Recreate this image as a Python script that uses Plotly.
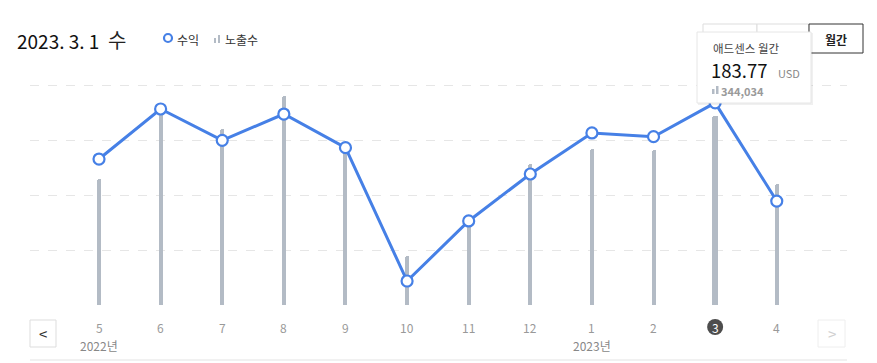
import plotly.graph_objects as go

# ---- data ----
months = ["5", "6", "7", "8", "9", "10", "11", "12", "1", "2", "3", "4"]
revenue_usd = [132.7, 178.2, 149.7, 173.6, 143.0, 21.8, 76.4, 119.1, 156.4, 153.0, 183.77, 94.5]
impressions = [229100, 349100, 319500, 380000, 281800, 89100, 147300, 255800, 283600, 281300, 344034, 220000]
year_labels = {"5": "2022년", "1": "2023년"}
selected = "3"

W, H = 877, 363
L, R, T, B = 30, 30, 75, 58
PW, PH = W - L - R, H - T - B
EXT = PH / 220.0  # plot is 10px taller than the top gridline
FONT = "Noto Sans CJK KR, Noto Sans, sans-serif"
BLUE = "#4680e6"
BARC = "#b3bbc5"

def px(X):
    return (X - L) / PW

def py(Y):
    return (H - B - Y) / PH

xs = list(range(len(months)))
sel_i = months.index(selected)
widths = [0.09 if m == selected else 0.065 for m in months]

fig = go.Figure()
fig.add_trace(go.Bar(x=xs, y=impressions, width=widths, marker=dict(color=BARC, cornerradius=2, line=dict(width=0)),
                     yaxis="y", hoverinfo="skip"))
fig.add_trace(go.Scatter(x=xs, y=revenue_usd, mode="lines+markers", yaxis="y2",
                         line=dict(color=BLUE, width=3),
                         marker=dict(size=11, color="white", line=dict(color=BLUE, width=2.2)),
                         cliponaxis=False, hoverinfo="skip"))

shapes = []
ann = []

# month labels
for i, m in enumerate(months):
    if m == selected:
        shapes.append(dict(type="circle", xref="x", yref="paper", xsizemode="pixel", ysizemode="pixel",
                           xanchor=i, yanchor=0, x0=-8, x1=8, y0=-30, y1=-14,
                           fillcolor="#4d4d4d", line=dict(width=0)))
        ann.append(dict(x=i, y=0, xref="x", yref="paper", text=m, showarrow=False, yanchor="middle",
                        yshift=-22, font=dict(size=12, color="white", family=FONT)))
    else:
        ann.append(dict(x=i, y=0, xref="x", yref="paper", text=m, showarrow=False, yanchor="middle",
                        yshift=-22, font=dict(size=12, color="#999999", family=FONT)))
    if m in year_labels:
        ann.append(dict(x=i, y=0, xref="x", yref="paper", text=year_labels[m], showarrow=False,
                        yanchor="middle", yshift=-40, font=dict(size=12, color="#888888", family=FONT)))

# title
ann.append(dict(x=px(15), y=py(40), xref="paper", yref="paper", xanchor="left", yanchor="middle",
                text="2023. 3. 1", showarrow=False, font=dict(size=19, color="#111111", family=FONT)))
ann.append(dict(x=px(106), y=py(39), xref="paper", yref="paper", xanchor="left", yanchor="middle",
                text="수", showarrow=False, font=dict(size=20, color="#222222", family=FONT)))

# legend
shapes.append(dict(type="circle", xref="paper", yref="paper", x0=px(164), x1=px(172), y0=py(42), y1=py(34),
                   line=dict(color=BLUE, width=2.2), fillcolor="white"))
ann.append(dict(x=px(175), y=py(39), xref="paper", yref="paper", xanchor="left", yanchor="middle",
                text="수익", showarrow=False, font=dict(size=12, color="#333333", family=FONT)))
shapes.append(dict(type="rect", xref="paper", yref="paper", x0=px(214), x1=px(216), y0=py(43), y1=py(38),
                   line=dict(width=0), fillcolor=BARC))
shapes.append(dict(type="rect", xref="paper", yref="paper", x0=px(218), x1=px(220), y0=py(43), y1=py(35),
                   line=dict(width=0), fillcolor=BARC))
ann.append(dict(x=px(223), y=py(39), xref="paper", yref="paper", xanchor="left", yanchor="middle",
                text="노출수", showarrow=False, font=dict(size=12, color="#333333", family=FONT)))

# period buttons
shapes.append(dict(type="rect", xref="paper", yref="paper", x0=px(703), x1=px(757), y0=py(53), y1=py(24),
                   line=dict(color="#dddddd", width=1), fillcolor="white"))
shapes.append(dict(type="rect", xref="paper", yref="paper", x0=px(757), x1=px(809), y0=py(53), y1=py(24),
                   line=dict(color="#dddddd", width=1), fillcolor="white"))
shapes.append(dict(type="rect", xref="paper", yref="paper", x0=px(809), x1=px(863), y0=py(53), y1=py(24),
                   line=dict(color="#333333", width=1), fillcolor="white"))
ann.append(dict(x=px(836), y=py(39), xref="paper", yref="paper", xanchor="center", yanchor="middle",
                text="<b>월간</b>", showarrow=False, font=dict(size=12, color="#222222", family=FONT)))

# tooltip
shapes.append(dict(type="rect", xref="paper", yref="paper", x0=px(698), x1=px(813), y0=py(105), y1=py(33),
                   line=dict(width=0), fillcolor="rgba(0,0,0,0.06)", layer="above"))
shapes.append(dict(type="rect", xref="paper", yref="paper", x0=px(697), x1=px(811), y0=py(103), y1=py(32),
                   line=dict(color="#e6e6e6", width=1), fillcolor="white", layer="above"))
ann.append(dict(x=px(711), y=py(48), xref="paper", yref="paper", xanchor="left", yanchor="middle",
                text="애드센스 월간", showarrow=False, font=dict(size=11.5, color="#444444", family=FONT)))
ann.append(dict(x=px(710), y=py(70), xref="paper", yref="paper", xanchor="left", yanchor="middle",
                text=f"{revenue_usd[sel_i]:.2f}", showarrow=False, borderpad=0,
                font=dict(size=18.5, color="#111111", family=FONT)))
ann.append(dict(x=px(776), y=py(73), xref="paper", yref="paper", xanchor="left", yanchor="middle",
                text="USD", showarrow=False, font=dict(size=11, color="#888888", family=FONT)))
shapes.append(dict(type="rect", xref="paper", yref="paper", x0=px(712), x1=px(714.5), y0=py(94), y1=py(89),
                   line=dict(width=0), fillcolor=BARC, layer="above"))
shapes.append(dict(type="rect", xref="paper", yref="paper", x0=px(716), x1=px(718.5), y0=py(94), y1=py(86),
                   line=dict(width=0), fillcolor=BARC, layer="above"))
ann.append(dict(x=px(720), y=py(91), xref="paper", yref="paper", xanchor="left", yanchor="middle",
                text=f"<b>{impressions[sel_i]:,}</b>", showarrow=False, borderpad=0,
                font=dict(size=11, color="#9a9a9a", family=FONT)))

# nav buttons
shapes.append(dict(type="rect", xref="paper", yref="paper", x0=px(30), x1=px(56), y0=py(347), y1=py(320),
                   line=dict(color="#dddddd", width=1), fillcolor="white"))
ann.append(dict(x=px(43), y=py(333), xref="paper", yref="paper", xanchor="center", yanchor="middle",
                text="<", showarrow=False, font=dict(size=15, color="#333333", family=FONT)))
shapes.append(dict(type="rect", xref="paper", yref="paper", x0=px(818), x1=px(845), y0=py(347), y1=py(320),
                   line=dict(color="#eeeeee", width=1), fillcolor="white"))
ann.append(dict(x=px(832), y=py(333), xref="paper", yref="paper", xanchor="center", yanchor="middle",
                text=">", showarrow=False, font=dict(size=15, color="#d0d0d0", family=FONT)))

# bottom separator
shapes.append(dict(type="line", xref="paper", yref="paper", x0=px(30), x1=px(847), y0=py(360), y1=py(360),
                   line=dict(color="#e3e3e3", width=1)))

fig.update_layout(
    width=W, height=H,
    margin=dict(l=L, r=R, t=T, b=B, pad=0),
    paper_bgcolor="white", plot_bgcolor="white",
    showlegend=False, bargap=0,
    xaxis=dict(range=[-1.12, 12.14], showticklabels=False, showgrid=False, zeroline=False, showline=False,
               fixedrange=True),
    yaxis=dict(range=[0, 400000 * EXT], tick0=0, dtick=100000, showticklabels=False, showgrid=True,
               gridcolor="#e6e6e6", griddash="dash", gridwidth=1, zeroline=False, showline=False),
    yaxis2=dict(range=[0, 200 * EXT], overlaying="y", showticklabels=False, showgrid=False, zeroline=False,
                showline=False),
    shapes=shapes,
    annotations=ann,
    font=dict(family=FONT),
)

fig.write_html("out.html", config={"displayModeBar": False},
               post_script="document.body.style.margin='0';document.body.style.overflow='hidden';")
